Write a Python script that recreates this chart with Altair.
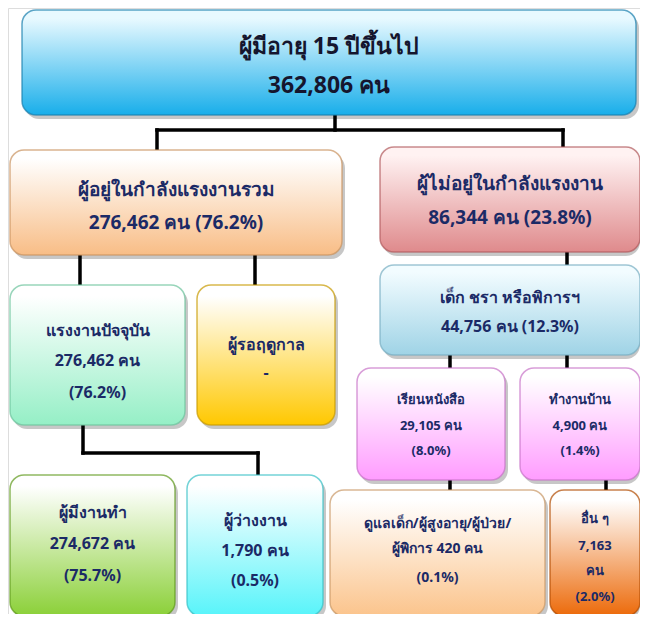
import altair as alt
import pandas as pd

# ---- data (labels and values) ----
labels = [
    "ผู้มีอายุ 15 ปีขึ้นไป",
    "ผู้อยู่ในกำลังแรงงานรวม",
    "ผู้ไม่อยู่ในกำลังแรงงาน",
    "แรงงานปัจจุบัน",
    "ผู้รอฤดูกาล",
    "เด็ก ชรา หรือพิการฯ",
    "เรียนหนังสือ",
    "ทำงานบ้าน",
    "ผู้มีงานทำ",
    "ผู้ว่างงาน",
    "ดูแลเด็ก/ผู้สูงอายุ/ผู้ป่วย/",
    "อื่น ๆ",
]
counts = ["362,806", "276,462", "86,344", "276,462", "-", "44,756",
          "29,105", "4,900", "274,672", "1,790", "420", "7,163"]
percents = ["", "76.2%", "23.8%", "76.2%", "", "12.3%",
            "8.0%", "1.4%", "75.7%", "0.5%", "0.1%", "2.0%"]

# text lines per box, built from the arrays above
lines = [
    [labels[0], counts[0] + " คน"],
    [labels[1], f"{counts[1]} คน ({percents[1]})"],
    [labels[2], f"{counts[2]} คน ({percents[2]})"],
    [labels[3], counts[3] + " คน", f"({percents[3]})"],
    [labels[4], counts[4]],
    [labels[5], f"{counts[5]} คน ({percents[5]})"],
    [labels[6], counts[6] + " คน", f"({percents[6]})"],
    [labels[7], counts[7] + " คน", f"({percents[7]})"],
    [labels[8], counts[8] + " คน", f"({percents[8]})"],
    [labels[9], counts[9] + " คน", f"({percents[9]})"],
    [labels[10], "ผู้พิการ " + counts[10] + " คน", f"({percents[10]})"],
    [labels[11], counts[11], "คน", f"({percents[11]})"],
]

# ---- layout (page pixel coordinates) and styles ----
boxes = [  # x0, x1, y0, y1
    (22, 636, 10, 115),
    (10, 342, 150, 255),
    (380, 640, 147, 252),
    (10, 185, 285, 425),
    (197, 335, 285, 425),
    (380, 640, 265, 355),
    (357, 505, 368, 480),
    (520, 640, 368, 480),
    (10, 175, 475, 616),
    (187, 323, 475, 616),
    (330, 545, 490, 616),
    (550, 640, 490, 616),
]
line_ys = [
    [47, 86], [190, 223], [184, 218], [331, 361, 393], [345, 373],
    [298, 327], [400, 426, 451], [400, 426, 451], [513, 544, 576],
    [521, 551, 581], [524, 549, 578], [519, 546, 571, 597],
]
font_sizes = [23, 19, 19, 16, 16, 16, 13, 13, 16, 16, 14, 13]
top_colors = ["#e8f9ff", "#ffffff", "#fff2f2", "#ffffff", "#ffffff", "#f2fcff",
              "#ffffff", "#ffffff", "#ffffff", "#ffffff", "#ffffff", "#ffffff"]
bottom_colors = ["#18aeea", "#f8bd86", "#df8a8c", "#95efc6", "#ffc800", "#9fd3e6",
                 "#ff9cff", "#ff9cff", "#8bd038", "#58f4fa", "#fbc48c", "#ec6a0a"]
edge_colors = ["#1a7fae", "#c9935f", "#b05a5c", "#6cc39c", "#c89a00", "#78aec2",
               "#c873c8", "#c873c8", "#5f9a1c", "#38c0c6", "#c99966", "#b04c00"]
text_colors = ["#15152e"] + ["#1b2a66"] * 11

connectors = [  # x, x2, y, y2
    (335, 335, 115, 130), (157, 563, 130, 130), (157, 157, 130, 150), (563, 563, 130, 147),
    (80, 80, 255, 285), (255, 255, 255, 285),
    (567, 567, 252, 265),
    (450, 450, 355, 368), (567, 567, 355, 368),
    (450, 450, 480, 490), (606, 606, 480, 490),
    (83, 83, 425, 453), (83, 258, 453, 453), (258, 258, 453, 475),
]

W, H = 632, 606
xs = alt.Scale(domain=[8, 8 + W], nice=False, zero=False)
ys = alt.Scale(domain=[8, 8 + H], nice=False, zero=False, reverse=True)

def X(f):
    return alt.X(f, type="quantitative", scale=xs, axis=None)

def Y(f):
    return alt.Y(f, type="quantitative", scale=ys, axis=None)

layers = []

# shadows
shadow_df = pd.DataFrame([{"x0": b[0] + 3, "x1": min(b[1] + 3, 640), "y0": b[2] + 4, "y1": b[3] + 4} for b in boxes])
layers.append(
    alt.Chart(shadow_df).mark_rect(cornerRadius=14, color="#000000", opacity=0.22)
    .encode(x=X("x0"), x2="x1", y=Y("y0"), y2="y1")
)

# connector lines
con_df = pd.DataFrame(connectors, columns=["x", "x2", "y", "y2"])
layers.append(
    alt.Chart(con_df).mark_rule(color="#000000", strokeWidth=3.5, strokeCap="square")
    .encode(x=X("x"), x2="x2", y=Y("y"), y2="y2")
)

# boxes with gradient fills
for i, b in enumerate(boxes):
    df = pd.DataFrame([{"x0": b[0], "x1": b[1], "y0": b[2], "y1": b[3]}])
    grad = alt.Gradient(
        gradient="linear",
        stops=[alt.GradientStop(color=top_colors[i], offset=0),
               alt.GradientStop(color=top_colors[i], offset=0.08),
               alt.GradientStop(color=bottom_colors[i], offset=1)],
        x1=0, x2=0, y1=0, y2=1,
    )
    layers.append(
        alt.Chart(df).mark_rect(cornerRadius=14, fill=grad, stroke=edge_colors[i],
                                strokeWidth=1.5, strokeOpacity=0.7)
        .encode(x=X("x0"), x2="x1", y=Y("y0"), y2="y1")
    )

# text
rows = []
for i, b in enumerate(boxes):
    cx = (b[0] + b[1]) / 2
    for t, yy in zip(lines[i], line_ys[i]):
        rows.append({"x": cx, "y": yy, "t": t, "fs": font_sizes[i], "c": text_colors[i]})
text_df = pd.DataFrame(rows)
layers.append(
    alt.Chart(text_df).mark_text(font="Tahoma, Noto Sans, sans-serif", fontWeight="bold",
                                 align="center", baseline="middle")
    .encode(x=X("x"), y=Y("y"), text="t:N",
            size=alt.Size("fs:Q", scale=None, legend=None),
            color=alt.Color("c:N", scale=None, legend=None))
)

chart = alt.layer(*layers).properties(
    width=W, height=H, autosize=alt.AutoSizeParams(type="none"), padding=0
).configure_view(stroke=None).configure(background="#ffffff")

chart.save("out.html", embed_options={"renderer": "svg", "actions": False})
